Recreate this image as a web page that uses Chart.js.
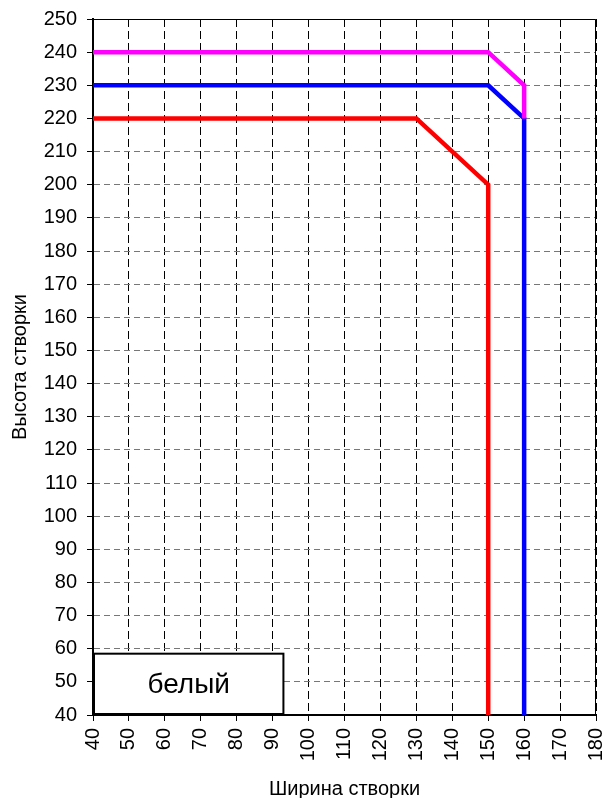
<!DOCTYPE html>
<html>
<head>
<meta charset="utf-8">
<script src="https://cdn.jsdelivr.net/npm/chart.js@4"></script>
<style>
  html, body { margin: 0; padding: 0; background: #fff; }
  #wrap { width: 606px; height: 798px; position: relative; }
</style>
</head>
<body>
<div id="wrap"><canvas id="sash-chart"></canvas></div>
<script>
// limits for sash size (width x height)
const redX = [40, 130, 150, 150];
const redY = [220, 220, 200, 40];
const blueX = [40, 150, 160, 160];
const blueY = [230, 230, 220, 40];
const magentaX = [40, 150, 160, 160];
const magentaY = [240, 240, 230, 220];

const xMin = 40, xMax = 180, xStep = 10;
const yMin = 40, yMax = 250, yStep = 10;
const legendLabel = "белый";

const FONT = "'Liberation Sans', Arial, sans-serif";
const toPoints = (xs, ys) => xs.map((x, i) => ({ x: x, y: ys[i] }));

// frame around the plot + the little label box in the corner
const framePlugin = {
  id: "frame",
  afterDatasetsDraw(chart) {
    const { ctx, chartArea: a } = chart;
    ctx.save();
    ctx.strokeStyle = "#000";
    ctx.lineWidth = 1;
    ctx.beginPath();
    ctx.moveTo(a.left, a.top + 0.5);
    ctx.lineTo(a.right - 0.5, a.top + 0.5);
    ctx.lineTo(a.right - 0.5, a.bottom);
    ctx.stroke();

    // label box
    const x = chart.scales.x, y = chart.scales.y;
    const left = x.getPixelForValue(40) + 1;
    const right = x.getPixelForValue(93);
    const top = y.getPixelForValue(58.5);
    const bottom = y.getPixelForValue(40) - 1;
    ctx.fillStyle = "#fff";
    ctx.fillRect(left, top, right - left, bottom - top);
    ctx.lineWidth = 2;
    ctx.strokeRect(left, top, right - left, bottom - top);
    ctx.fillStyle = "#000";
    ctx.font = "28px " + FONT;
    ctx.textAlign = "center";
    ctx.textBaseline = "middle";
    ctx.fillText(legendLabel, (left + right) / 2, (top + bottom) / 2 + 1);
    ctx.restore();
  },
};

const ctx = document.getElementById("sash-chart").getContext("2d");

new Chart(ctx, {
  type: "scatter",
  data: {
    datasets: [
      {
        label: "magenta",
        data: toPoints(magentaX, magentaY),
        borderColor: "#ff00ff",
      },
      {
        label: "blue",
        data: toPoints(blueX, blueY),
        borderColor: "#0000ff",
      },
      {
        label: "red",
        data: toPoints(redX, redY),
        borderColor: "#ff0000",
      },
    ].map((d) => ({
      ...d,
      showLine: true,
      borderWidth: 4.5,
      pointRadius: 0,
      tension: 0,
      fill: false,
    })),
  },
  plugins: [framePlugin],
  options: {
    responsive: true,
    maintainAspectRatio: false,
    animation: false,
    layout: { padding: { top: 19, right: 10, left: 0, bottom: 0 } },
    plugins: {
      legend: { display: false },
      tooltip: { enabled: false },
    },
    scales: {
      x: {
        type: "linear",
        min: xMin,
        max: xMax,
        ticks: {
          stepSize: xStep,
          minRotation: 90,
          maxRotation: 90,
          color: "#000",
          padding: 7,
          font: { family: FONT, size: 20 },
        },
        grid: {
          color: "#000",
          tickColor: "#000",
          tickLength: 6,
          lineWidth: 1,
        },
        border: { color: "#000", width: 2, dash: [8, 4] },
        title: {
          display: true,
          text: "Ширина створки",
          color: "#000",
          padding: { top: 13, bottom: -3 },
          font: { family: FONT, size: 20 },
        },
        afterFit(scale) {
          scale.height = 83;
          scale.paddingLeft = 0;
          scale.paddingRight = 0;
        },
      },
      y: {
        type: "linear",
        min: yMin,
        max: yMax,
        ticks: {
          stepSize: yStep,
          color: "#000",
          padding: 10,
          font: { family: FONT, size: 20 },
        },
        grid: {
          color: "#777",
          tickColor: "#000",
          tickLength: 6,
          lineWidth: 1,
        },
        border: { color: "#000", width: 2, dash: [6, 4] },
        title: {
          display: true,
          text: "Высота створки",
          color: "#000",
          padding: { top: 8, bottom: 4 },
          font: { family: FONT, size: 20 },
        },
        afterFit(scale) {
          scale.width = 93;
          scale.paddingTop = 0;
          scale.paddingBottom = 0;
        },
      },
    },
  },
});
</script>
</body>
</html>
